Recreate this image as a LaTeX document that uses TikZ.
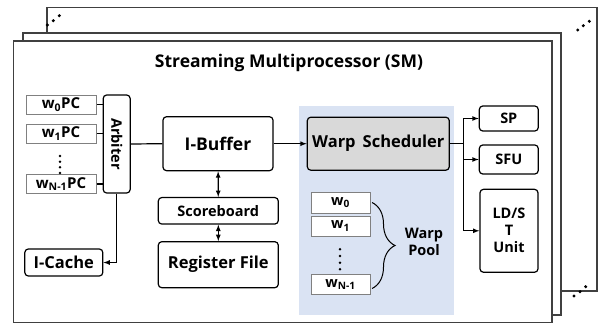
\documentclass[tikz,border=0pt]{standalone}
\usepackage{fontspec}
\setmainfont{Open Sans}
\usetikzlibrary{decorations.pathreplacing}

\definecolor{poolblue}{HTML}{DAE3F3}
\definecolor{schedgray}{HTML}{D9D9D9}
\definecolor{framegray}{HTML}{404040}

\begin{document}
\begin{tikzpicture}[x=1pt, y=-1pt, >=latex, line width=1.2pt,
  frame/.style = {draw=framegray, line width=1.4pt, fill=white},
  unit/.style = {draw, rounded corners=3.5pt, fill=white, inner sep=0pt, font=\bfseries\fontsize{16.5}{18}\selectfont},
  small/.style = {unit, font=\bfseries\fontsize{14.5}{17}\selectfont},
  pc/.style = {draw=gray, line width=1pt, fill=white, inner sep=0pt, minimum width=70pt, minimum height=19pt, font=\bfseries\fontsize{15}{17}\selectfont},
  warp/.style = {pc, minimum width=59pt, minimum height=20.5pt, font=\bfseries\fontsize{14.5}{17}\selectfont}]
\useasboundingbox (0,0) rectangle (598,324);

% stacked SM frames
\draw[frame] (47,7.5) rectangle (597,291);
\draw[frame] (23,33) rectangle (561,315);
\draw[frame] (13.5,41) rectangle (552,322.5);
\foreach \x/\y in {47.3/25,53.3/20.7,59.3/15.7,577.7/30,583.3/25.7,589.3/21.3,574/296,580/291.7,585.7/286.7}
  \fill (\x,\y) circle (1.7);

\node (title) at (289,63) {\bfseries\fontsize{17.5}{20}\selectfont Streaming Multiprocessor (SM)};

% fetch side
\node[pc] (w0pc) at (61,104.5) {w\textsubscript{0}PC};
\node[pc] (w1pc) at (61,133.5) {w\textsubscript{1}PC};
\node[pc] (wnpc) at (61,184) {w\textsubscript{N-1}PC};
\foreach \y in {156,161.7,167.3,173}
  \fill (60,\y) circle (1.4);
\node[small, minimum width=27pt, minimum height=98pt] (arb) at (116.7,144) {\rotatebox{-90}{Arbiter}};
\node[unit, minimum width=78pt, minimum height=27pt] (icache) at (63.8,262.5) {I-Cache};

\node[unit, minimum width=110pt, minimum height=54pt, font=\bfseries\fontsize{17.5}{20}\selectfont] (ibuf) at (218,143.7) {I-Buffer};
\node[small, minimum width=120pt, minimum height=26.5pt] (sb) at (218.3,210.8) {Scoreboard};
\node[unit, minimum width=120pt, minimum height=46pt] (rf) at (218.3,264.7) {Register File};

% warp pool
\fill[poolblue] (299,106) rectangle (454.3,315);
\node[unit, fill=schedgray, minimum width=142pt, minimum height=53pt] (ws) at (378.3,143.7) {Warp\, Scheduler};
\node[warp] (w0) at (340.5,202.8) {w\textsubscript{0}};
\node[warp, minimum height=20pt] (w1) at (340.5,226) {w\textsubscript{1}};
\node[warp] (wn) at (340.5,284.7) {w\textsubscript{N-1}};
\foreach \y in {249.3,256,262.7,269.3}
  \fill (340,\y) circle (1.4);
\draw[decorate, decoration={brace, amplitude=23pt}, line width=1pt] (372,202.5) -- (372,288.5);
\node[font=\bfseries\fontsize{14.5}{17}\selectfont, align=center] (pool) at (424,242) {Warp\\Pool};

% execution units
\node[small, minimum width=59pt, minimum height=25pt] (sp) at (508.8,118.5) {SP};
\node[small, minimum width=59pt, minimum height=29pt] (sfu) at (508.8,159.5) {SFU};
\node[small, minimum width=58pt, minimum height=83pt, align=center] (ldst) at (509,230.8) {LD/S\\T\\Unit};

\draw (w0pc.east) -- (w0pc.east -| arb.west);
\draw (w1pc.east) -- (w1pc.east -| arb.west);
\draw (wnpc.east) -- (wnpc.east -| arb.west);
\draw (arb.east) -- (ibuf.west);
\draw[->] (arb.south) |- (icache.east);
\draw[<->] (ibuf) -- (sb);
\draw[<->] (sb) -- (rf);
\draw[->] (ibuf) -- (ws);
\coordinate (fork) at (463.3,143.7);
\draw (ws.east) -- (fork);
\draw[->] (fork) |- (sp.west);
\draw[->] (fork) |- (sfu.west);
\draw[->] (fork) |- (ldst.west);
\end{tikzpicture}
\end{document}
